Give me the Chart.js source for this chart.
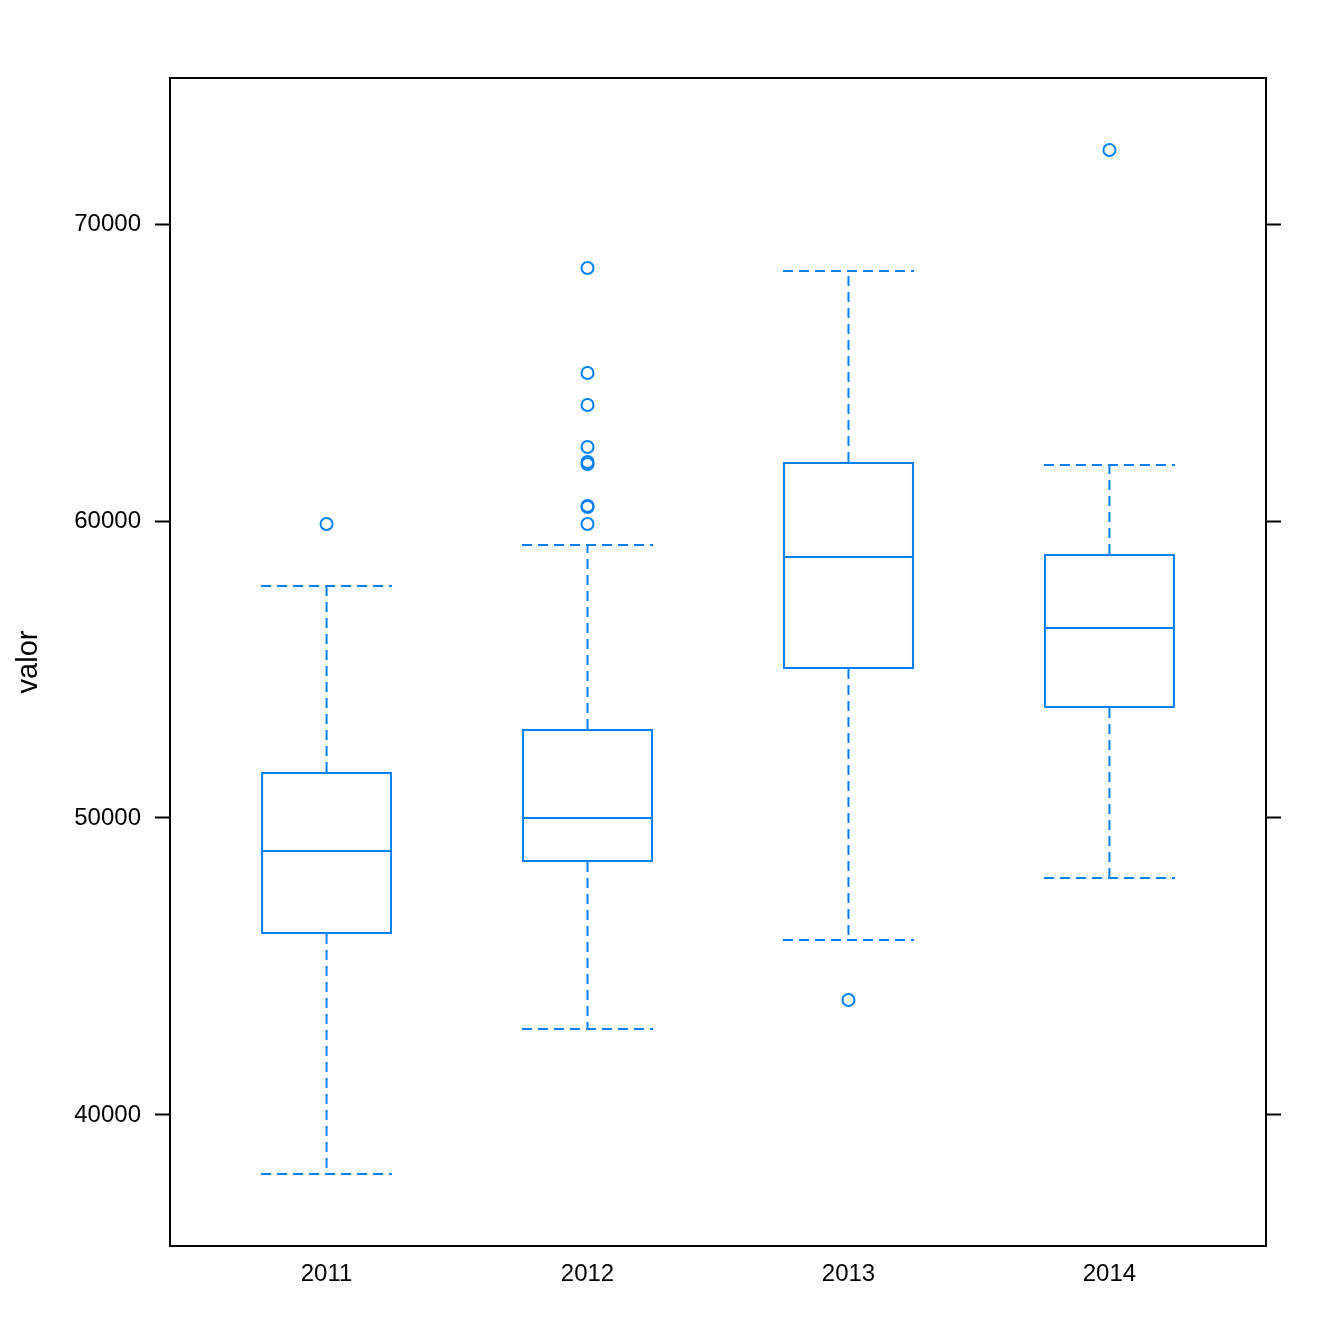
<!DOCTYPE html>
<html>
<head>
<meta charset="utf-8">
<script src="https://cdn.jsdelivr.net/npm/chart.js@4"></script>
<style>
  html, body { margin: 0; padding: 0; background: #fff; }
  #wrap { width: 1344px; height: 1344px; }
</style>
</head>
<body>
<div id="wrap"><canvas id="box-chart"></canvas></div>
<script>
const years = ['2011', '2012', '2013', '2014'];
const whiskerLow = [38013, 42896, 45892, 47980];
const boxLow = [46094, 48519, 55017, 53704];
const medians = [48889, 50000, 58788, 56397];
const boxHigh = [51549, 52997, 61987, 58889];
const whiskerHigh = [57811, 59192, 68418, 61886];
const outliers = [
    [59899],
    [68519, 64983, 63906, 62492, 61987, 61919, 60505, 60471, 59899],
    [43872],
    [72492]
];
const yTicks = [40000, 50000, 60000, 70000];

const blue = '#0080ff';
const font = { family: 'Liberation Sans, Arial, sans-serif', size: 24 };

// whiskers, caps and medians drawn from the scales
const boxExtras = {
    id: 'boxExtras',
    afterDatasetsDraw(chart) {
        const { ctx, scales: { x, y } } = chart;
        const bars = chart.getDatasetMeta(0).data;
        ctx.save();
        ctx.strokeStyle = blue;
        ctx.lineWidth = 2;
        years.forEach((_, i) => {
            const cx = x.getPixelForValue(i + 1);
            const half = bars[i].width / 2;
            const line = (x1, y1, x2, y2) => {
                ctx.beginPath();
                ctx.moveTo(x1, y1);
                ctx.lineTo(x2, y2);
                ctx.stroke();
            };
            ctx.setLineDash([10, 6]);
            line(cx, y.getPixelForValue(boxHigh[i]), cx, y.getPixelForValue(whiskerHigh[i]));
            line(cx, y.getPixelForValue(boxLow[i]), cx, y.getPixelForValue(whiskerLow[i]));
            line(cx - half, y.getPixelForValue(whiskerHigh[i]), cx + half, y.getPixelForValue(whiskerHigh[i]));
            line(cx - half, y.getPixelForValue(whiskerLow[i]), cx + half, y.getPixelForValue(whiskerLow[i]));
            ctx.setLineDash([]);
            line(cx - half, y.getPixelForValue(medians[i]), cx + half, y.getPixelForValue(medians[i]));
        });
        ctx.restore();
    }
};

const boxData = years.map((_, i) => ({ x: i + 1, y: [boxLow[i], boxHigh[i]] }));
const outlierData = outliers.flatMap((vals, i) => vals.map(v => ({ x: i + 1, y: v })));

const setTicks = values => scale => { scale.ticks = values.map(v => ({ value: v })); };
const yRange = { min: 35589, max: 74916 };
const frame = { display: true, color: '#000', width: 2 };

new Chart(document.getElementById('box-chart'), {
    data: {
        datasets: [
            {
                type: 'bar',
                data: boxData,
                backgroundColor: 'rgba(0,0,0,0)',
                borderColor: blue,
                borderWidth: 2,
                borderSkipped: false,
                barPercentage: 0.502,
                categoryPercentage: 1
            },
            {
                type: 'scatter',
                data: outlierData,
                pointStyle: 'circle',
                pointRadius: 6,
                pointBorderWidth: 2,
                pointBorderColor: blue,
                pointBackgroundColor: 'rgba(0,0,0,0)'
            }
        ]
    },
    options: {
        responsive: true,
        maintainAspectRatio: false,
        animation: false,
        layout: { padding: 0 },
        plugins: { legend: { display: false }, tooltip: { enabled: false } },
        scales: {
            x: {
                type: 'linear',
                position: 'bottom',
                offset: false,
                min: 0.4,
                max: 4.6,
                afterBuildTicks: setTicks([1, 2, 3, 4]),
                afterFit: s => { s.height = 98; },
                ticks: {
                    color: '#000',
                    font,
                    padding: 14,
                    maxRotation: 0,
                    callback: v => years[v - 1]
                },
                grid: { display: true, drawOnChartArea: false, drawTicks: false, color: '#000' },
                border: frame
            },
            x2: {
                type: 'linear',
                position: 'top',
                offset: false,
                min: 0.4,
                max: 4.6,
                afterFit: s => { s.height = 78; },
                ticks: { display: false },
                grid: { display: true, drawOnChartArea: false, drawTicks: false },
                border: frame
            },
            y: {
                type: 'linear',
                position: 'left',
                ...yRange,
                afterBuildTicks: setTicks(yTicks),
                afterFit: s => { s.width = 170; },
                ticks: { color: '#000', font, padding: 14, callback: v => String(v) },
                grid: { display: true, drawOnChartArea: false, tickLength: 15, tickWidth: 2, color: '#000' },
                border: frame,
                title: {
                    display: true,
                    text: 'valor',
                    color: '#000',
                    font: { family: font.family, size: 29 },
                    padding: { top: 12, bottom: 0 }
                }
            },
            y2: {
                type: 'linear',
                position: 'right',
                ...yRange,
                afterBuildTicks: setTicks(yTicks),
                afterFit: s => { s.width = 78; },
                ticks: { display: false },
                grid: { display: true, drawOnChartArea: false, tickLength: 15, tickWidth: 2, color: '#000' },
                border: frame
            }
        }
    },
    plugins: [boxExtras]
});
</script>
</body>
</html>
